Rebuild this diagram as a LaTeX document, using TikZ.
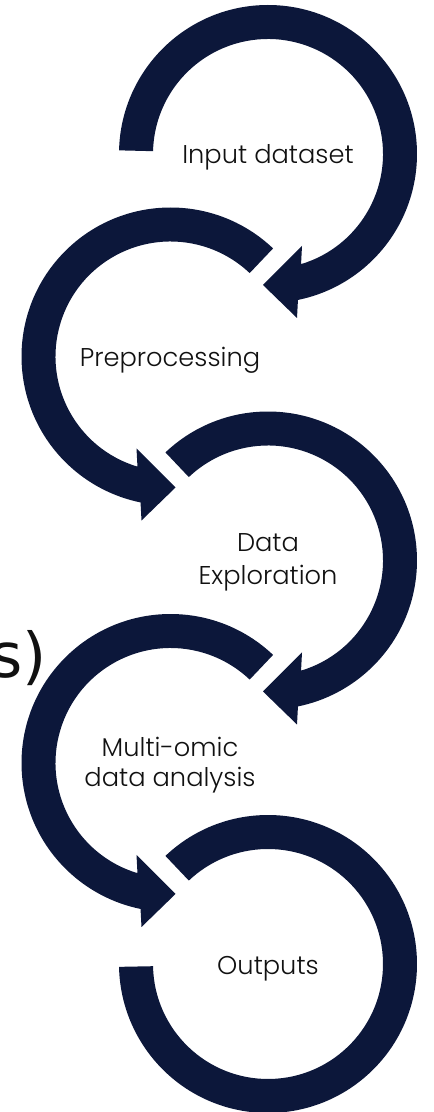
\documentclass[tikz,border=0pt]{standalone}
\usepackage{fontspec}
\IfFontExistsTF{Poppins Light}{\newfontfamily\labelfont{Poppins Light}}{\newfontfamily\labelfont{Poppins}}
\newfontfamily\sidefont{DejaVu Sans}
\definecolor{navy}{HTML}{0C173A}
\definecolor{txt}{HTML}{111111}
\tikzset{
  ring/.style={fill=navy},
  lbl/.style={font=\labelfont\fontsize{25.7}{32}\selectfont, text=txt, inner sep=0pt, align=center},
}
% arrow arc, local frame: centre at origin, arrow at bottom pointing left
\newcommand{\ringarrow}[1]{%
  \fill[ring] (#1:149) arc[start angle=#1, end angle=-78.4, radius=149]
    -- (29,-164) -- (-5,-131) -- (34,-92) -- (-73.3:115)
    arc[start angle=-73.3, end angle=#1, radius=115] -- cycle;}
\begin{document}
\begin{tikzpicture}[x=1pt,y=1pt]
\useasboundingbox (0,0) rectangle (434,1112);
% circle 1
\begin{scope}[shift={(268,958)}]
  \ringarrow{178.6}
\end{scope}
% circle 2 (mirrored)
\begin{scope}[shift={(170.5,755.5)}, xscale=-1]
  \ringarrow{133.5}
\end{scope}
% circle 3
\begin{scope}[shift={(268,551.5)}]
  \ringarrow{133.5}
\end{scope}
% circle 4 (mirrored)
\begin{scope}[shift={(170.5,349)}, xscale=-1]
  \ringarrow{133.5}
\end{scope}
% circle 5 (no arrow)
\begin{scope}[shift={(268,148)}]
  \fill[ring] (133.5:149) arc[start angle=133.5, end angle=-178.9, radius=149]
    -- (-178.9:115) arc[start angle=-178.9, end angle=133.5, radius=115] -- cycle;
\end{scope}
\node[lbl, anchor=base] (input) at (268,948.7) {Input dataset};
\node[lbl, anchor=base] (prep) at (170,745.3) {Preprocessing};
\node[lbl, anchor=base] (explo1) at (268,560) {Data};
\node[lbl, anchor=base] (explo2) at (268,527.7) {Exploration};
\node[lbl, anchor=base] (multi1) at (170,355.3) {Multi-omic};
\node[lbl, anchor=base] (multi2) at (170,325.5) {data analysis};
\node[lbl, anchor=base] (out) at (268,137) {Outputs};
\node[font=\sidefont\fontsize{62}{70}\selectfont, text=txt, inner sep=0pt, anchor=base east] (side) at (47,434) {s)};
\end{tikzpicture}
\end{document}
